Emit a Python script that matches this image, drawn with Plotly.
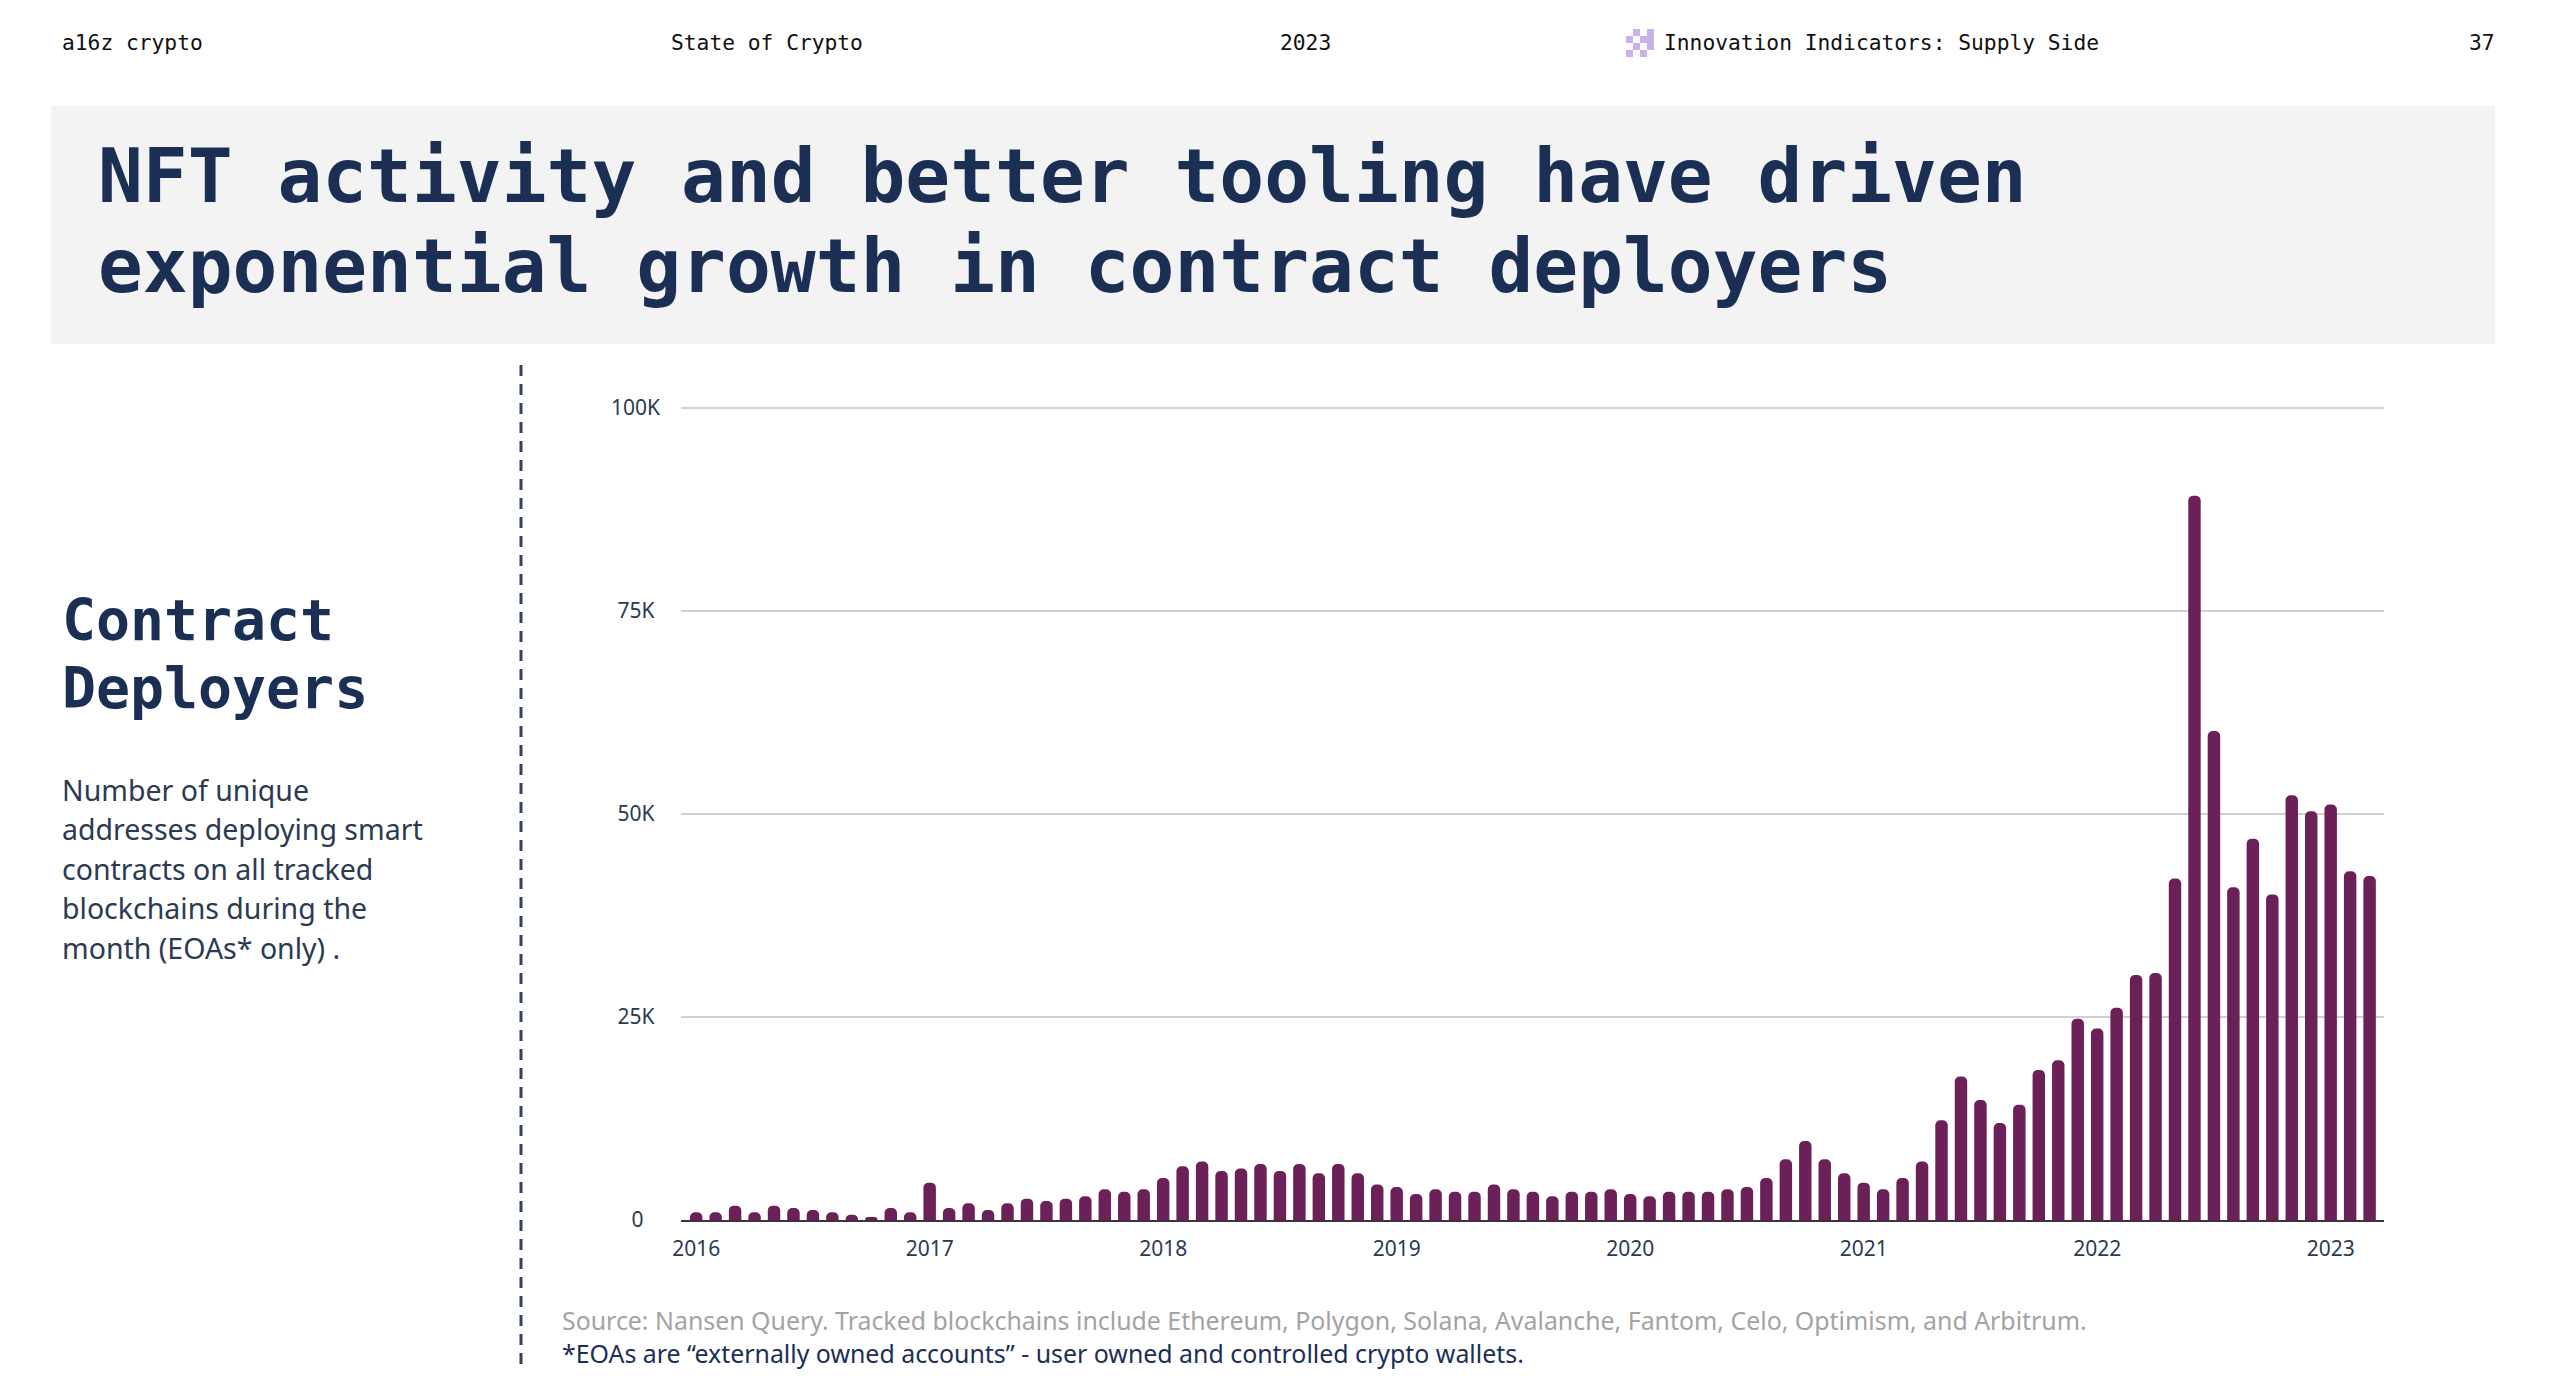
import plotly.graph_objects as go

W, H = 2560, 1378

# ---- data -------------------------------------------------------------
years = [2016, 2017, 2018, 2019, 2020, 2021, 2022, 2023]
deployers_2016 = [945, 945, 1770, 945, 1770, 1480, 1233, 945, 660, 370, 1480, 945]
deployers_2017 = [4600, 1480, 2055, 1233, 2055, 2630, 2340, 2630, 2920, 3780, 3490, 3780]
deployers_2018 = [5180, 6620, 7190, 6040, 6330, 6900, 6040, 6900, 5750, 6900, 5750, 4360]
deployers_2019 = [4070, 3200, 3780, 3490, 3490, 4360, 3780, 3490, 2920, 3490, 3490, 3780]
deployers_2020 = [3200, 2920, 3490, 3490, 3490, 3780, 4070, 5180, 7480, 9740, 7480, 5750]
deployers_2021 = [4600, 3780, 5180, 7190, 12290, 17670, 14770, 11940, 14200, 18480, 19680, 24770]
deployers_2022 = [23570, 26150, 30170, 30430, 42050, 89200, 60220, 40990, 46960, 40100, 52300, 50350]
deployers_2023 = [51170, 42940, 42370]

y_ticks = [0, 25000, 50000, 75000, 100000]
y_tick_labels = ["0\u00a0\u00a0\u00a0", "25K\u00a0", "50K\u00a0", "75K\u00a0", "100K"]

header_left = "a16z crypto"
header_mid = "State of Crypto"
header_year = "2023"
header_section = "Innovation Indicators: Supply Side"
header_page = "37"
title_lines = ["NFT activity and better tooling have driven",
               "exponential growth in contract deployers"]
side_title = ["Contract", "Deployers"]
side_body = ["Number of unique", "addresses deploying smart", "contracts on all tracked",
             "blockchains during the", "month (EOAs* only) ."]
source_line = "Source: Nansen Query. Tracked blockchains include Ethereum, Polygon, Solana, Avalanche, Fantom, Celo, Optimism, and Arbitrum."
note_line = "*EOAs are \u201cexternally owned accounts\u201d - user owned and controlled crypto wallets."

# icon pattern (col, row) of the small checker mark
icon_cells = [(1, 0), (3, 0), (0, 1), (2, 1), (3, 1), (1, 2), (3, 2), (0, 3), (2, 3)]

values = (deployers_2016 + deployers_2017 + deployers_2018 + deployers_2019 +
          deployers_2020 + deployers_2021 + deployers_2022 + deployers_2023)
months = [f"{y}-{m:02d}" for y in years for m in range(1, 13)][:len(values)]

# ---- style ------------------------------------------------------------
MONO = "DejaVu Sans Mono"
SANS = "Noto Sans"
NAVY = "#1b2f55"
INK = "#2b3a52"
BAR = "#6b2158"


def px(x):
    return x / W


def py(y):
    return 1 - y / H


fig = go.Figure(go.Bar(x=months, y=values, marker=dict(color=BAR, line=dict(width=0)),
                       hoverinfo="x+y"))

ann = []


def text(x, y, s, size, color, family=SANS, anchor="left", bold=False):
    ann.append(dict(x=px(x), y=py(y), xref="paper", yref="paper", text=f"<b>{s}</b>" if bold else s,
                    showarrow=False, xanchor=anchor, yanchor="middle",
                    font=dict(family=family, size=size, color=color)))


text(60, 42, header_left, 21.25, "#111111", MONO)
text(669, 42, header_mid, 21.25, "#111111", MONO)
text(1278, 42, header_year, 21.25, "#111111", MONO)
text(1662, 42, header_section, 21.25, "#111111", MONO)
text(2497, 42, header_page, 21.25, "#111111", MONO, anchor="right")
for yy, s in zip([176.5, 266.5], title_lines):
    text(95.5, yy, s, 74.5, NAVY, MONO, bold=True)
for yy, s in zip([620, 688], side_title):
    text(60, yy, s, 56.5, NAVY, MONO, bold=True)
for yy, s in zip([790, 829, 869, 908, 948], side_body):
    text(60, yy, s, 28.5, INK)
text(560, 1320, source_line, 24.9, "#a3a3a3")
text(560, 1353, note_line, 24.9, NAVY)

shapes = [
    dict(type="rect", xref="paper", yref="paper", x0=px(51), x1=px(2495), y0=py(106), y1=py(344),
         fillcolor="#f3f3f3", line=dict(width=0), layer="below"),
    dict(type="line", xref="paper", yref="paper", x0=px(521), x1=px(521), y0=py(365), y1=py(1366),
         line=dict(color="#33425f", width=3, dash="11px,8px")),
]
for c, r in icon_cells:
    shapes.append(dict(type="rect", xref="paper", yref="paper",
                       x0=px(1626 + c * 7), x1=px(1626 + (c + 1) * 7),
                       y0=py(29 + r * 7), y1=py(29 + (r + 1) * 7),
                       fillcolor="#c9b1ea", line=dict(width=0)))

# the top of the y range sits a little above 100K so that gridline is kept
y_top = 100400
top_px = 1220 - (1220 - 408) * y_top / 100000

fig.update_layout(
    width=W, height=H, autosize=False,
    margin=dict(l=0, r=0, t=0, b=0, pad=0, autoexpand=False),
    paper_bgcolor="white", plot_bgcolor="white",
    showlegend=False, bargap=0.36, barcornerradius=5,
    annotations=ann, shapes=shapes,
    font=dict(family=SANS, color=INK),
    xaxis=dict(
        domain=[px(681), px(2384)], type="category", categoryorder="array", categoryarray=months,
        range=[-0.78, len(values) - 1 + 0.74],
        tickmode="array", tickvals=[f"{y}-01" for y in years], ticktext=[str(y) for y in years],
        tickfont=dict(family=SANS, size=21, color=INK), ticks="", showgrid=False,
        showline=True, linecolor="#3b3346", linewidth=2, zeroline=False,
        ticklabelstandoff=9, automargin=False,
    ),
    yaxis=dict(
        domain=[py(1220), py(top_px)], range=[0, y_top],
        tickmode="array", tickvals=y_ticks, ticktext=y_tick_labels,
        tickfont=dict(family=SANS, size=21, color=INK), ticks="", ticklen=0,
        showgrid=True, gridcolor="#d0d0d0", gridwidth=2, zeroline=False, showline=False,
        ticklabelstandoff=20, automargin=False,
    ),
)

fig.write_html("out.html", config={"displayModeBar": False},
               post_script="document.body.style.margin='0';")
